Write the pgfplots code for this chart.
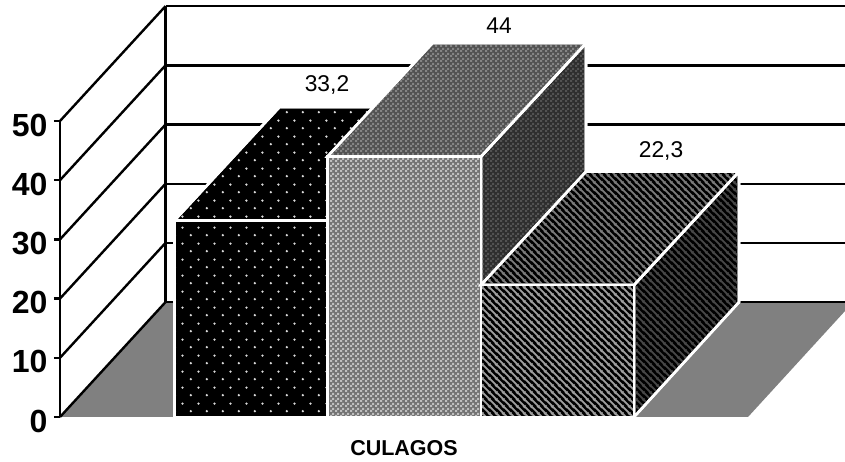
\documentclass[border=0pt]{standalone}
\usepackage{fontspec}
\setmainfont{Liberation Sans}
\usepackage{pgfplots}
\pgfplotsset{compat=1.18}
\usetikzlibrary{patterns}
\pgfdeclarepatternformonly{bardots}{\pgfpointorigin}{\pgfqpoint{15.6bp}{15.6bp}}{\pgfqpoint{15.6bp}{15.6bp}}{%
  \pgfpathcircle{\pgfqpoint{3.9bp}{3.9bp}}{1.3bp}%
  \pgfpathcircle{\pgfqpoint{11.7bp}{11.7bp}}{1.3bp}%
  \pgfusepath{fill}}
\pgfdeclarepatternformonly{barcheck}{\pgfpointorigin}{\pgfqpoint{5bp}{5bp}}{\pgfqpoint{5bp}{5bp}}{%
  \pgfpathrectangle{\pgfqpoint{0bp}{0bp}}{\pgfqpoint{2.5bp}{2.5bp}}%
  \pgfpathrectangle{\pgfqpoint{2.5bp}{2.5bp}}{\pgfqpoint{2.5bp}{2.5bp}}%
  \pgfusepath{fill}}
\pgfdeclarepatternformonly{barstripeb}{\pgfpointorigin}{\pgfqpoint{7bp}{7bp}}{\pgfqpoint{7bp}{7bp}}{%
  \pgfsetlinewidth{1.9bp}%
  \pgfpathmoveto{\pgfqpoint{-1bp}{8bp}}\pgfpathlineto{\pgfqpoint{8bp}{-1bp}}%
  \pgfpathmoveto{\pgfqpoint{-1bp}{1bp}}\pgfpathlineto{\pgfqpoint{1bp}{-1bp}}%
  \pgfpathmoveto{\pgfqpoint{6bp}{8bp}}\pgfpathlineto{\pgfqpoint{8bp}{6bp}}%
  \pgfusepath{stroke}}
\definecolor{floorgray}{HTML}{808080}
\tikzset{
  barface/.style={draw=white,line width=2.6bp,line join=miter},
  dotface/.style={barface,preaction={fill=black},pattern=bardots,pattern color=white!85!black},
  chkfront/.style={barface,preaction={fill=black!55},pattern=barcheck,pattern color=black!25},
  chktop/.style={barface,preaction={fill=black!68},pattern=barcheck,pattern color=black!48},
  chkside/.style={barface,preaction={fill=black!82},pattern=barcheck,pattern color=black!68},
  strfront/.style={barface,preaction={fill=black},pattern=barstripeb,pattern color=black!38},
  strtop/.style={barface,preaction={fill=black},pattern=barstripeb,pattern color=black!52},
  strside/.style={barface,preaction={fill=black},pattern=barstripeb,pattern color=black!72},
  grid3d/.style={black,line width=2.4bp,line join=round}
}
\begin{document}
\begin{tikzpicture}[x=1bp,y=1bp]
\path[use as bounding box] (0,0) rectangle (845,462);
\begin{axis}[
  at={(60bp,45bp)},anchor=south west,
  scale only axis,width=785bp,height=296bp,
  xmin=60,xmax=845,ymin=0,ymax=50,
  clip=false,
  axis y line=left,axis x line=bottom,
  x axis line style={draw=none},
  y axis line style={-,line width=2.4bp,black},
  ytick={0,10,20,30,40,50},
  xtick={404},xticklabels={CULAGOS},
  x tick style={draw=none},
  y tick style={black,line width=2.4bp},
  tick align=outside,
  major tick length=6bp,
  /pgf/number format/assume math mode=true,
  yticklabel style={font=\fontsize{32bp}{32bp}\selectfont\bfseries,yshift=-4bp,xshift=-3bp},
  xticklabel style={font=\fontsize{21.5bp}{22bp}\selectfont\bfseries,yshift=-14bp},
]
% floor
\addplot[draw=none,fill=floorgray] coordinates {(60,0)(165.5,19.4)(845,19.4)(845,17.9)(748,0)} --cycle;
% side-wall diagonals
\addplot[grid3d] coordinates {(60,0)(165.5,19.4)};
\addplot[grid3d] coordinates {(60,10)(165.5,29.4)};
\addplot[grid3d] coordinates {(60,20)(165.5,39.4)};
\addplot[grid3d] coordinates {(60,30)(165.5,49.4)};
\addplot[grid3d] coordinates {(60,40)(165.5,59.4)};
\addplot[grid3d] coordinates {(60,50)(165.5,69.4)};
% back wall
\addplot[grid3d] coordinates {(165.5,19.4)(165.5,69.4)};
\addplot[grid3d] coordinates {(165.5,19.4)(845,19.4)};
\addplot[grid3d] coordinates {(165.5,29.4)(845,29.4)};
\addplot[grid3d] coordinates {(165.5,39.4)(845,39.4)};
\addplot[grid3d] coordinates {(165.5,49.4)(845,49.4)};
\addplot[grid3d] coordinates {(165.5,59.4)(845,59.4)};
\addplot[grid3d] coordinates {(165.5,69.4)(845,69.4)};
% bar 1: 33.2
\addplot[dotface] coordinates {(174.5,33.2)(327.5,33.2)(432.5,52.35)(279.5,52.35)} --cycle;
\addplot[dotface] coordinates {(174.5,0)(327.5,0)(327.5,33.2)(174.5,33.2)} --cycle;
% bar 2: 44
\addplot[chkside] coordinates {(481,0)(586,19.4)(586,63.15)(481,44)} --cycle;
\addplot[chktop] coordinates {(327.5,44)(481,44)(586,63.15)(432.5,63.15)} --cycle;
\addplot[chkfront] coordinates {(327.5,0)(481,0)(481,44)(327.5,44)} --cycle;
% bar 3: 22.3
\addplot[strside] coordinates {(634,0)(739,19.4)(739,41.45)(634,22.3)} --cycle;
\addplot[strtop] coordinates {(481,22.3)(634,22.3)(739,41.45)(586,41.45)} --cycle;
\addplot[strfront] coordinates {(481,0)(634,0)(634,22.3)(481,22.3)} --cycle;
% value labels
\node[font=\fontsize{22.8bp}{23bp}\selectfont] at (axis cs:327,56.1) {33,2};
\node[font=\fontsize{22.8bp}{23bp}\selectfont] at (axis cs:499,66.05) {44};
\node[font=\fontsize{22.8bp}{23bp}\selectfont] at (axis cs:661,44.9) {22,3};
\end{axis}
\end{tikzpicture}
\end{document}
